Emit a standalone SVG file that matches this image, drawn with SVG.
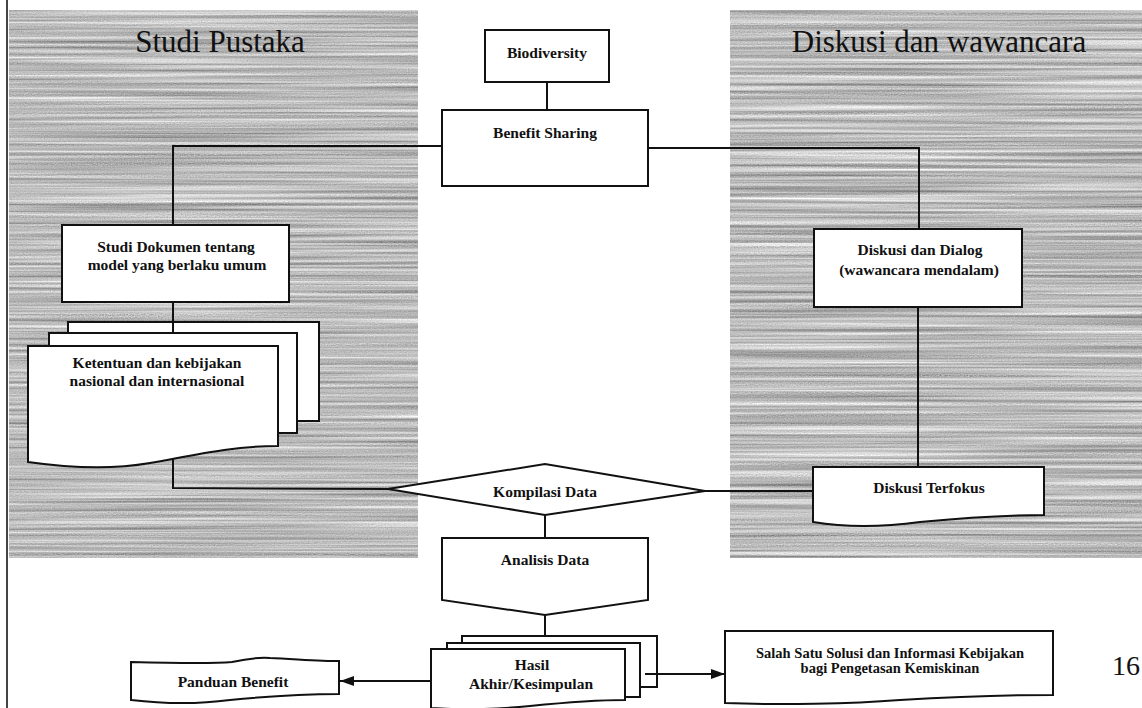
<svg xmlns="http://www.w3.org/2000/svg" width="1142" height="708" viewBox="0 0 1142 708">
<style>
.box{fill:#fff;stroke:#111;stroke-width:2}
.ln{fill:none;stroke:#111;stroke-width:2}
.t{font-family:"Liberation Serif","Times New Roman",serif;font-weight:bold;font-size:15.5px;fill:#111;text-anchor:middle}
.title{font-family:"Liberation Serif","Times New Roman",serif;font-size:31px;fill:#111;text-anchor:middle}
</style>
<defs>
<filter id="tex" x="0" y="0" width="100%" height="100%" color-interpolation-filters="sRGB">
<feTurbulence type="fractalNoise" baseFrequency="0.003 0.32" numOctaves="3" seed="7" result="a"/>
<feTurbulence type="fractalNoise" baseFrequency="0.7 0.9" numOctaves="1" seed="2" result="b"/>
<feComposite in="a" in2="b" operator="arithmetic" k1="0" k2="0.75" k3="0.25" k4="0"/>
<feColorMatrix type="matrix" values="0.85 0 0 0 0.31  0.85 0 0 0 0.31  0.85 0 0 0 0.31  0 0 0 0 1"/>
</filter>
<marker id="arr" markerUnits="userSpaceOnUse" markerWidth="14" markerHeight="10" refX="14" refY="5" orient="auto">
<path d="M0,0 L14,5 L0,10 Z" fill="#111"/>
</marker>
</defs>
<rect width="1142" height="708" fill="#fff"/>
<g id="panels">
<rect x="9" y="10" width="409" height="548" filter="url(#tex)"/>
<rect x="730" y="10" width="412" height="548" filter="url(#tex)"/>
<line x1="7" y1="0" x2="7" y2="708" stroke="#444" stroke-width="2"/>
<text class="title" x="220" y="52">Studi Pustaka</text>
<text class="title" x="939" y="52">Diskusi dan wawancara</text>
</g>
<g id="n-biodiversity">
<rect class="box" x="485" y="30" width="124" height="52"/>
<text class="t" x="547" y="58">Biodiversity</text>
</g>
<g id="n-benefit">
<rect class="box" x="442" y="110" width="206" height="76"/>
<text class="t" x="545" y="138">Benefit Sharing</text>
</g>
<g id="n-studi-dokumen">
<rect class="box" x="62" y="225" width="227" height="77"/>
<text class="t" x="176" y="252">Studi Dokumen tentang</text>
<text class="t" x="177" y="270">model yang berlaku umum</text>
</g>
<g id="n-ketentuan">
<rect class="box" x="68" y="322" width="251" height="99"/>
<rect class="box" x="49" y="333" width="248" height="100"/>
<path class="box" d="M28,346 H278 V446 C230,446 190,456 150,463 C110,470 70,468 28,462 Z"/>
<text class="t" x="157" y="368">Ketentuan dan kebijakan</text>
<text class="t" x="157" y="386">nasional dan internasional</text>
</g>
<g id="n-diskusi-dialog">
<rect class="box" x="814" y="229" width="208" height="78"/>
<text class="t" x="920" y="255">Diskusi dan  Dialog</text>
<text class="t" x="919" y="275">(wawancara mendalam)</text>
</g>
<g id="n-diskusi-terfokus">
<path class="box" d="M813,467 H1044 V515 C1000,515 960,518 920,522 C890,526 850,528 813,522 Z"/>
<text class="t" x="929" y="493">Diskusi Terfokus</text>
</g>
<g id="n-kompilasi">
<polygon class="box" points="388,489 545,464 705,491 545,515"/>
<text class="t" x="545" y="497">Kompilasi Data</text>
</g>
<g id="n-analisis">
<polygon class="box" points="442,538 648,538 648,600 545,615 442,600"/>
<text class="t" x="545" y="565">Analisis Data</text>
</g>
<g id="n-hasil">
<rect class="box" x="462" y="636" width="195" height="51"/>
<rect class="box" x="447" y="643" width="193" height="54"/>
<path class="box" d="M431,649 H625 V700 C590,700 560,703 530,706 C500,709 460,710 431,708 Z"/>
<text class="t" x="532" y="670">Hasil</text>
<text class="t" x="531" y="689">Akhir/Kesimpulan</text>
</g>
<g id="n-panduan">
<path class="box" d="M131,662 C170,663 210,664 232,662 C245,659 255,657 270,658 C295,659 320,661 339,661 V694 C300,694 260,697 230,700 C200,704 165,704 131,700 Z"/>
<text class="t" x="233" y="687">Panduan Benefit</text>
</g>
<g id="n-salah-satu">
<path class="box" d="M725,631 H1053 V695 C1000,695 950,697 900,700 C850,704 780,705 725,703 Z"/>
<text class="t" x="890" y="658" style="font-size:14.5px">Salah Satu Solusi dan Informasi Kebijakan</text>
<text class="t" x="890" y="673" style="font-size:14.5px">bagi Pengetasan Kemiskinan</text>
</g>
<text id="page-number" x="1126" y="675" style="font-family:'Liberation Serif','Times New Roman',serif;font-size:28px;fill:#111;text-anchor:middle">16</text>
<g id="connectors">
<line class="ln" x1="547" y1="82" x2="547" y2="110"/>
<polyline class="ln" points="442,146 173,146 173,225"/>
<polyline class="ln" points="648,148 919,148 919,229"/>
<line class="ln" x1="173" y1="302" x2="173" y2="333"/>
<polyline class="ln" points="173,459 173,488 388,489"/>
<line class="ln" x1="918" y1="307" x2="918" y2="467"/>
<line class="ln" x1="705" y1="491" x2="813" y2="491"/>
<line class="ln" x1="545" y1="515" x2="545" y2="538"/>
<line class="ln" x1="545" y1="615" x2="545" y2="636"/>
<line class="ln" x1="431" y1="681" x2="340" y2="681" marker-end="url(#arr)"/>
<line class="ln" x1="645" y1="674" x2="725" y2="674" marker-end="url(#arr)"/>
</g>
</svg>
